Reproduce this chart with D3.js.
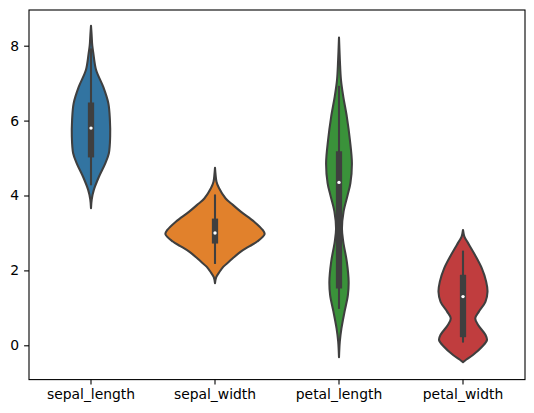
<!DOCTYPE html>
<html><head><meta charset="utf-8">
<script src="https://cdn.jsdelivr.net/npm/d3@7"></script>
<style>body{margin:0;background:#fff}svg{display:block}text{font-family:"DejaVu Sans",sans-serif;font-size:13.9px;fill:#000}</style>
</head><body><svg id="c" width="534" height="413"></svg>
<script>
const categories = ["sepal_length","sepal_width","petal_length","petal_width"];
const colors = ["#3274a1","#e1812c","#3a923a","#c03d3e"];
const yTicks = [0,2,4,6,8];
// violin outlines: [value, relative density]
const sepalLengthDensity = [[8.53,0],[8.3,0.012],[8.0,0.026],[7.8,0.047],[7.35,0.103],[6.9,0.247],[6.46,0.35],[6.02,0.381],[5.57,0.386],[5.13,0.36],[4.86,0.288],[4.5,0.16],[4.15,0.057],[3.9,0.015],[3.66,0]];
const sepalWidthDensity = [[4.74,0],[4.55,0.012],[4.37,0.03],[4.2,0.08],[3.92,0.215],[3.75,0.36],[3.57,0.52],[3.3,0.79],[3.08,0.96],[2.97,1.0],[2.77,0.85],[2.65,0.7],[2.5,0.52],[2.35,0.38],[2.23,0.28],[2.1,0.17],[1.97,0.095],[1.82,0.025],[1.66,0]];
const petalLengthDensity = [[8.22,0],[7.6,0.018],[7.08,0.04],[6.64,0.086],[6.1,0.158],[5.48,0.22],[4.86,0.26],[4.33,0.23],[4.01,0.174],[3.57,0.092],[3.12,0.059],[2.77,0.085],[2.23,0.158],[1.7,0.194],[1.34,0.179],[0.9,0.112],[0.45,0.049],[0.1,0.016],[-0.32,0]];
const petalWidthDensity = [[3.08,0],[2.9,0.028],[2.77,0.084],[2.41,0.242],[2.06,0.378],[1.7,0.467],[1.43,0.494],[1.16,0.452],[0.9,0.32],[0.72,0.247],[0.54,0.305],[0.28,0.452],[0.14,0.483],[-0.04,0.383],[-0.26,0.2],[-0.38,0.068],[-0.45,0]];
const densities = [sepalLengthDensity, sepalWidthDensity, petalLengthDensity, petalWidthDensity];
// box stats: [whisker low, q1, median, q3, whisker high]
const boxStats = [[4.3,5.1,5.8,6.4,7.9],[2.2,2.8,3.0,3.3,4.0],[1.0,1.6,4.35,5.1,6.9],[0.1,0.3,1.3,1.8,2.5]];

const svg = d3.select("#c");
const L=29, R=525, T=10, B=379.6;
const x = d3.scaleBand().domain(categories).range([L,R]).paddingInner(0).paddingOuter(0);
const y = d3.scaleLinear().domain([-0.916,8.953]).range([B,T]);
const w = d3.scaleLinear().domain([0,1]).range([0, x.bandwidth()*0.8/2]);
const gray = "#3f3f3f";

categories.forEach((c,i)=>{
  const cx = x(c)+x.bandwidth()/2;
  const area = d3.area().curve(d3.curveCatmullRom.alpha(0.5))
    .y(d=>y(d[0])).x0(d=>cx-w(d[1])).x1(d=>cx+w(d[1]));
  svg.append("path").attr("d",area(densities[i])).attr("fill",colors[i])
    .attr("stroke",gray).attr("stroke-width",2.08).attr("stroke-linejoin","round");
  const s = boxStats[i];
  svg.append("line").attr("x1",cx).attr("x2",cx).attr("y1",y(s[0])).attr("y2",y(s[4]))
    .attr("stroke",gray).attr("stroke-width",2.08).attr("stroke-linecap","square");
  svg.append("line").attr("x1",cx).attr("x2",cx).attr("y1",y(s[1])).attr("y2",y(s[3]))
    .attr("stroke",gray).attr("stroke-width",6.25).attr("stroke-linecap","square");
  svg.append("circle").attr("cx",cx).attr("cy",y(s[2])).attr("r",1.7).attr("fill","#fff");
});

const xa = svg.append("g").attr("transform",`translate(0,${B})`)
  .call(d3.axisBottom(x).tickSize(4.9).tickPadding(4.9));
const ya = svg.append("g").attr("transform",`translate(${L},0)`)
  .call(d3.axisLeft(y).tickValues(yTicks).tickFormat(d3.format("d")).tickSize(4.9).tickPadding(4.9));
[xa,ya].forEach(g=>{g.select(".domain").remove();g.selectAll("line").attr("stroke","#000").attr("stroke-width",1.1);
  g.selectAll("text").attr("font-size",null).attr("fill","#000");g.attr("font-family",null).attr("font-size",null);});
svg.append("rect").attr("x",L).attr("y",T).attr("width",R-L).attr("height",B-T)
  .attr("fill","none").attr("stroke","#000").attr("stroke-width",1.1);
</script></body></html>
